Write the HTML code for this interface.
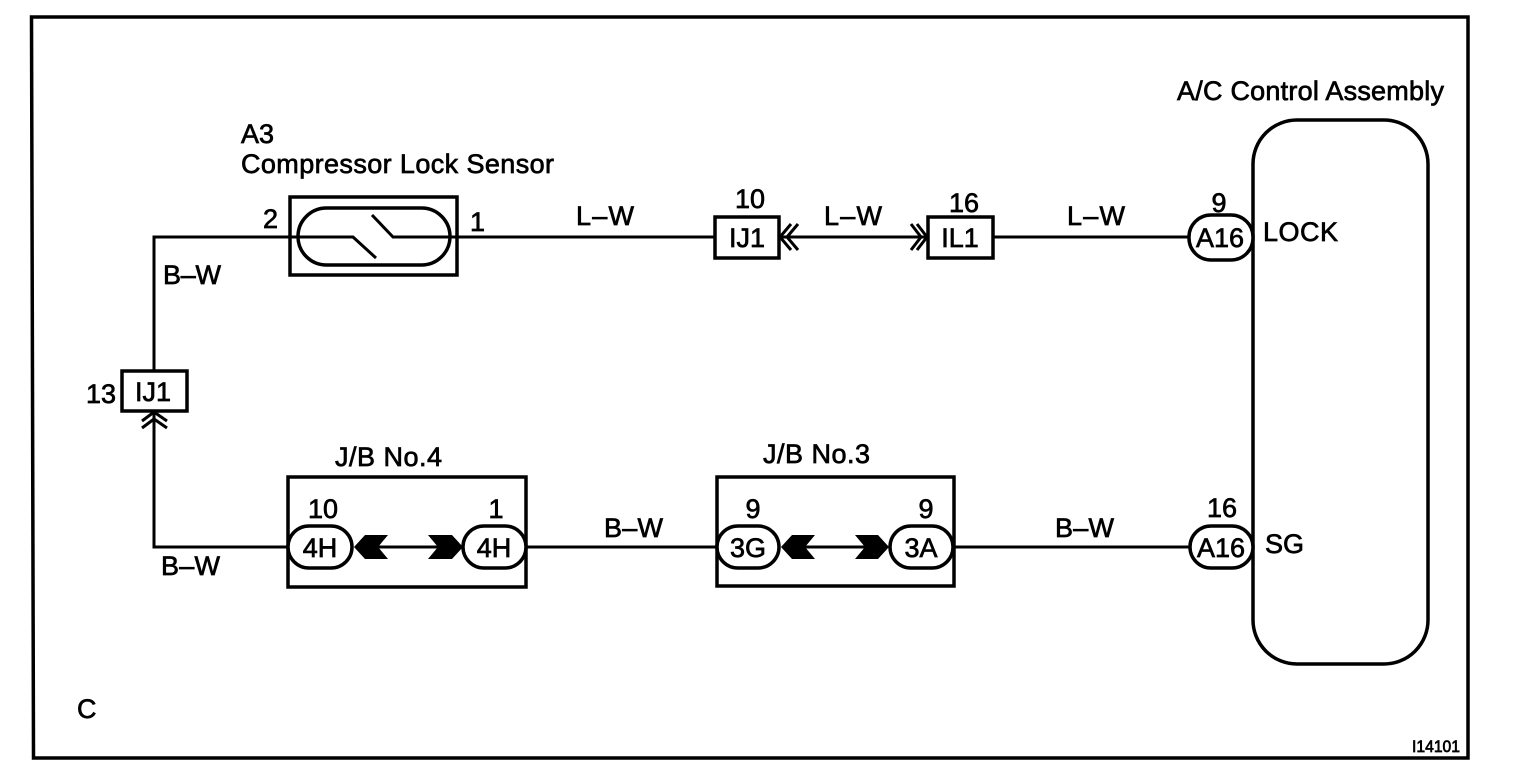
<!DOCTYPE html>
<html><head><meta charset="utf-8"><style>
html,body{margin:0;padding:0;background:#fff}
svg{display:block}
text{font-family:"Liberation Sans",sans-serif;font-size:27px;fill:#000;stroke:#000;stroke-width:.7px}
.m{text-anchor:middle}
.l{fill:none;stroke:#000;stroke-width:3}
.b{fill:none;stroke:#000;stroke-width:3.5}
.w{fill:#fff;stroke:#000;stroke-width:3.5}
</style></head><body>
<svg width="1520" height="784" viewBox="0 0 1520 784" xmlns="http://www.w3.org/2000/svg">
<polygon points="31.5,17 1468,17 1468,758 33.5,758" fill="none" stroke="#000" stroke-width="3.5"/>
<!-- wires -->
<path class="l" d="M154 371V237H353L376 258"/>
<path class="l" d="M372 215L393 237H715"/>
<path class="l" d="M780 237H928M993 237H1190"/>
<path class="l" d="M154 411V547H288"/>
<path class="l" d="M377 547H439M527 547H717M804 547H866M954 547H1190"/>
<!-- sensor -->
<rect class="b" x="290" y="197" width="167" height="78"/>
<rect class="b" x="298" y="208" width="152" height="57" rx="28.5"/>
<!-- small connectors -->
<rect class="w" x="715" y="217" width="64" height="41"/>
<rect class="w" x="928" y="217" width="65" height="41"/>
<rect class="w" x="122" y="371" width="65" height="40"/>
<path class="l" d="M791 224L780 237L791 250M798 224L787 237L798 250"/>
<path class="l" d="M911 224L921 237L911 250M917 224L927 237L917 250"/>
<path class="l" d="M142 421L154 412L167 421M142 428L154 419L167 428"/>
<!-- control assembly -->
<rect class="b" x="1253" y="120" width="175" height="544" rx="44"/>
<rect class="w" x="1189" y="215" width="64" height="45" rx="22"/>
<rect class="w" x="1190" y="526" width="63" height="42" rx="21"/>
<!-- J/B boxes -->
<rect class="b" x="288" y="477" width="238" height="110"/>
<rect class="b" x="717" y="477" width="237" height="109"/>
<rect class="w" x="288" y="526" width="64" height="42" rx="21"/>
<rect class="w" x="463" y="526" width="63" height="42" rx="21"/>
<rect class="w" x="717" y="526" width="62" height="42" rx="21"/>
<rect class="w" x="890" y="526" width="63" height="42" rx="21"/>
<path d="M354 547L365 535H388L378 547L388 559H365Z M463 547L452 535H428L438 547L428 559H452Z M781 547L792 535H815L805 547L815 559H792Z M889 547L878 535H855L865 547L855 559H878Z"/>
<!-- labels -->
<text x="241" y="143">A3</text>
<text x="241" y="173" textLength="313">Compressor Lock Sensor</text>
<text x="263" y="228">2</text>
<text x="470" y="231">1</text>
<text x="576" y="225" textLength="58">L–W</text>
<text class="m" x="750" y="208">10</text>
<text class="m" x="747" y="247">IJ1</text>
<text x="824" y="225" textLength="58">L–W</text>
<text class="m" x="964" y="212">16</text>
<text class="m" x="960" y="247">IL1</text>
<text x="1067" y="225" textLength="58">L–W</text>
<text class="m" x="1219" y="212">9</text>
<text class="m" x="1220" y="247">A16</text>
<text x="1263" y="241" textLength="75">LOCK</text>
<text x="1177" y="100" textLength="267">A/C Control Assembly</text>
<text x="163" y="284" textLength="58">B–W</text>
<text x="86" y="403">13</text>
<text class="m" x="153" y="401">IJ1</text>
<text x="161" y="575" textLength="59">B–W</text>
<text x="335" y="466" textLength="107">J/B No.4</text>
<text class="m" x="323" y="518">10</text>
<text class="m" x="496" y="518">1</text>
<text class="m" x="320" y="557">4H</text>
<text class="m" x="494" y="557">4H</text>
<text x="604" y="537" textLength="59">B–W</text>
<text x="763" y="463" textLength="107">J/B No.3</text>
<text class="m" x="753" y="518">9</text>
<text class="m" x="926" y="518">9</text>
<text class="m" x="748" y="557">3G</text>
<text class="m" x="921" y="557">3A</text>
<text x="1055" y="537" textLength="59">B–W</text>
<text class="m" x="1222" y="517">16</text>
<text class="m" x="1221" y="557">A16</text>
<text x="1265" y="553">SG</text>
<text x="77" y="718">C</text>
<text x="1412" y="752" textLength="48" lengthAdjust="spacingAndGlyphs" style="font-size:17px">I14101</text>
</svg>
</body></html>
